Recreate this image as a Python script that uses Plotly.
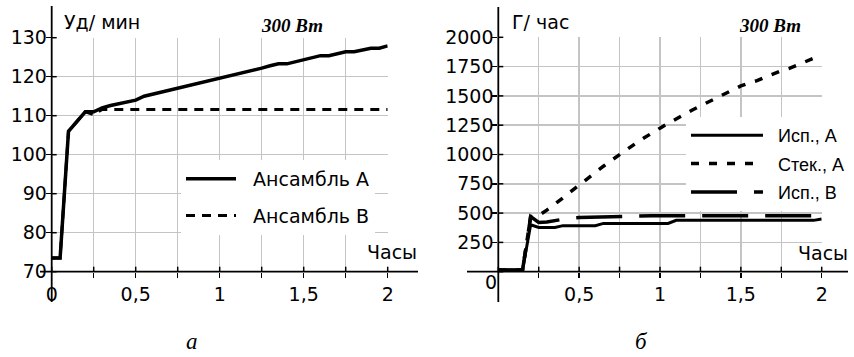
import plotly.graph_objects as go

# ---------------- data ----------------
hours = [0.0, 0.05, 0.1, 0.15, 0.2, 0.25, 0.3, 0.35, 0.4, 0.45, 0.5, 0.55, 0.6, 0.65,
         0.7, 0.75, 0.8, 0.85, 0.9, 0.95, 1.0, 1.05, 1.1, 1.15, 1.2, 1.25, 1.3, 1.35,
         1.4, 1.45, 1.5, 1.55, 1.6, 1.65, 1.7, 1.75, 1.8, 1.85, 1.9, 1.95, 2.0]

# (a) heart rate, beats/min
hr_ens_A = [73.5, 73.5, 106.0, 108.5, 111.0, 111.0, 112.0, 112.6, 113.0, 113.5, 114.0,
            115.0, 115.5, 116.0, 116.6, 117.2, 117.7, 118.2, 118.7, 119.2, 119.7, 120.2,
            120.7, 121.2, 121.7, 122.2, 122.8, 123.3, 123.3, 123.8, 124.3, 124.9, 125.4,
            125.4, 125.9, 126.4, 126.4, 126.9, 127.3, 127.3, 127.9]
hr_ens_B = [73.5, 73.5, 106.0, 108.5, 111.0, 110.3, 111.6, 111.6, 111.6, 111.6, 111.6,
            111.6, 111.6, 111.6, 111.6, 111.6, 111.6, 111.6, 111.6, 111.6, 111.6, 111.6,
            111.6, 111.6, 111.6, 111.6, 111.6, 111.6, 111.6, 111.6, 111.6, 111.6, 111.6,
            111.6, 111.6, 111.6, 111.6, 111.6, 111.6, 111.6, 111.6]

# (b) g/hour
evap_A = [15, 15, 15, 15, 400, 378, 378, 378, 393, 393, 393, 393, 393, 412, 412, 412,
          412, 412, 412, 412, 412, 412, 438, 438, 438, 438, 438, 438, 438, 438, 438, 438,
          438, 438, 438, 438, 438, 438, 438, 438, 450]
drain_A = [15, 15, 15, 15, 470, 480, 525, 575, 630, 685, 740, 795, 845, 900, 950, 1000,
           1050, 1095, 1140, 1185, 1225, 1265, 1305, 1345, 1380, 1415, 1450, 1485, 1520,
           1555, 1585, 1610, 1630, 1660, 1690, 1715, 1735, 1765, 1790, 1820, 1850]
evap_B = [15, 15, 15, 15, 470, 420, 425, 438, 452, 458, 462, 464, 465, 466, 468, 475,
          478, 478, 478, 478, 478, 478, 478, 478, 478, 478, 478, 478, 478, 478, 478, 478,
          478, 478, 478, 478, 478, 478, 478, 478, 478]

x_tickvals = [0, 0.25, 0.5, 0.75, 1, 1.25, 1.5, 1.75, 2]
x_ticktext_a = ["0", "", "0,5", "", "1", "", "1,5", "", "2"]
x_ticktext_b = ["", "", "0,5", "", "1", "", "1,5", "", "2"]
hr_tickvals = [70, 80, 90, 100, 110, 120, 130]
gh_tickvals = [0, 250, 500, 750, 1000, 1250, 1500, 1750, 2000]
gh_ticktext = ["", "250", "500", "750", "1000", "1250", "1500", "1750", "2000"]

names_a = ["Ансамбль А", "Ансамбль В"]
names_b = ["Исп., А", "Стек., А", "Исп., В"]

# ---------------- layout helpers ----------------
W, H = 854, 357
def px(v):
    return v / W
def py(v):
    return 1 - v / H

SANS = "DejaVu Sans"
SANS2 = "Liberation Sans"
SERIF = "Liberation Serif"
FS = 19
GRID = "#c4c4c4"
NB = "\u00a0\u00a0"

# plot-area pixel boxes
LX0, LX1, LY0, LY1 = 51.7, 387.7, 271.7, 37.7     # left:  x 0..2, y 70..130
RX0, RX1, RY0, RY1 = 498.3, 821.7, 271.7, 37.3    # right: x 0..2, y 0..2000
HR_RANGE = [70, 130]
GH_RANGE = [0, 2000]

fig = go.Figure()

fig.add_trace(go.Scatter(x=hours, y=hr_ens_A, name=NB + names_a[0], mode="lines",
                         line=dict(color="black", width=3.5), xaxis="x", yaxis="y",
                         legend="legend", legendgroup="a1"))
fig.add_trace(go.Scatter(x=hours, y=hr_ens_B, name=NB + names_a[1], mode="lines",
                         line=dict(color="black", width=3, dash="9px,7px"), xaxis="x", yaxis="y",
                         legend="legend", legendgroup="a2"))

fig.add_trace(go.Scatter(x=hours, y=evap_A, name=NB + names_b[0], mode="lines",
                         line=dict(color="black", width=3), xaxis="x2", yaxis="y2",
                         legend="legend2", legendgroup="b1"))
fig.add_trace(go.Scatter(x=hours, y=drain_A, name=NB + names_b[1], mode="lines",
                         line=dict(color="black", width=3.5, dash="8px,10px"), xaxis="x2", yaxis="y2",
                         legend="legend2", legendgroup="b2"))
fig.add_trace(go.Scatter(x=hours, y=evap_B, name=NB + names_b[2], mode="lines",
                         line=dict(color="black", width=3.5, dash="46px,17px"), xaxis="x2", yaxis="y2",
                         legend="legend2", legendgroup="b3"))

tickfont = dict(family=SANS, size=FS, color="black")
common_x = dict(range=[0, 2], tickvals=x_tickvals, ticks="outside", ticklen=5, tickwidth=1.5,
                tickcolor="black", showgrid=True, gridcolor=GRID, gridwidth=1.5,
                showline=False, zeroline=False, tickfont=tickfont, fixedrange=True,
                automargin=False)
common_y = dict(ticks="outside", ticklen=5, tickwidth=1.5, tickcolor="black", showgrid=True,
                gridcolor=GRID, gridwidth=1.5, showline=False, zeroline=False,
                tickfont=tickfont, fixedrange=True, automargin=False)

fig.update_layout(
    width=W, height=H, autosize=False,
    margin=dict(l=0, r=0, t=0, b=0),
    paper_bgcolor="white", plot_bgcolor="white",
    font=dict(family=SANS, size=FS, color="black"),
    xaxis=dict(domain=[px(LX0), px(LX1)], anchor="y", ticktext=x_ticktext_a, **common_x),
    yaxis=dict(domain=[py(LY0), py(LY1)], anchor="x", range=HR_RANGE, tickvals=hr_tickvals,
               ticklabelstandoff=-5, **common_y),
    xaxis2=dict(domain=[px(RX0), px(RX1)], anchor="y2", ticktext=x_ticktext_b, **common_x),
    yaxis2=dict(domain=[py(RY0), py(RY1)], anchor="x2", range=GH_RANGE, tickvals=gh_tickvals,
                ticktext=gh_ticktext, ticklabelstandoff=-5, **common_y),
    legend=dict(x=px(181), y=py(160), xanchor="left", yanchor="top", bgcolor="white",
                borderwidth=0, font=dict(family=SANS, size=FS, color="black"),
                itemwidth=50, tracegroupgap=9),
    legend2=dict(x=px(686), y=py(117), xanchor="left", yanchor="top", bgcolor="white",
                 borderwidth=0, font=dict(family=SANS2, size=18, color="black"),
                 itemwidth=72, tracegroupgap=2),
    showlegend=True,
)

# axis lines (extend beyond the gridded area like the original)
axis_lines = [
    (LX0, 6, LX0, 302), (40, LY0, 418, LY0),
    (RX0, 7, RX0, 302), (467, RY0, 848, RY0),
]
for x0, y0, x1, y1 in axis_lines:
    fig.add_shape(type="line", xref="paper", yref="paper", x0=px(x0), y0=py(y0),
                  x1=px(x1), y1=py(y1), line=dict(color="black", width=1.8))

# inner halves of the crossing tick marks
def add_inner_ticks(x0p, x1p, y0p, y1p, yrange, yticks, xticks):
    for v in yticks:
        yp = y0p + (v - yrange[0]) / (yrange[1] - yrange[0]) * (y1p - y0p)
        fig.add_shape(type="line", xref="paper", yref="paper", x0=px(x0p), x1=px(x0p + 5),
                      y0=py(yp), y1=py(yp), line=dict(color="black", width=1.5))
    for v in xticks:
        xp = x0p + v / 2 * (x1p - x0p)
        fig.add_shape(type="line", xref="paper", yref="paper", x0=px(xp), x1=px(xp),
                      y0=py(y0p), y1=py(y0p - 5), line=dict(color="black", width=1.5))

add_inner_ticks(LX0, LX1, LY0, LY1, HR_RANGE, hr_tickvals, x_tickvals)
add_inner_ticks(RX0, RX1, RY0, RY1, GH_RANGE, gh_tickvals, x_tickvals)

def ann(text, x, y, xanchor="center", size=FS, family=SANS, yanchor="middle"):
    fig.add_annotation(text=text, x=px(x), y=py(y), xref="paper", yref="paper",
                       xanchor=xanchor, yanchor=yanchor, showarrow=False,
                       font=dict(family=family, size=size, color="black"))

ann("Уд/ мин", 62, 22, "left")
ann("<b><i>300 Вт</i></b>", 292, 26, "center", 19, SERIF)
ann("Часы", 419, 252, "right")
ann("Г/ час", 510, 22, "left")
ann("<b><i>300 Вт</i></b>", 770, 26, "center", 19, SERIF)
ann("Часы", 850, 253, "right")
ann("0", 491, 282, "center")
ann("<i>а</i>", 192, 356, "center", 23, SERIF, "bottom")
ann("<i>б</i>", 641, 356, "center", 23, SERIF, "bottom")

fig.write_html(
    "out.html",
    config={"displayModeBar": False, "staticPlot": True},
    post_script="document.body.style.margin='0px';document.body.style.padding='0px';"
                "document.body.style.overflow='hidden';",
)
